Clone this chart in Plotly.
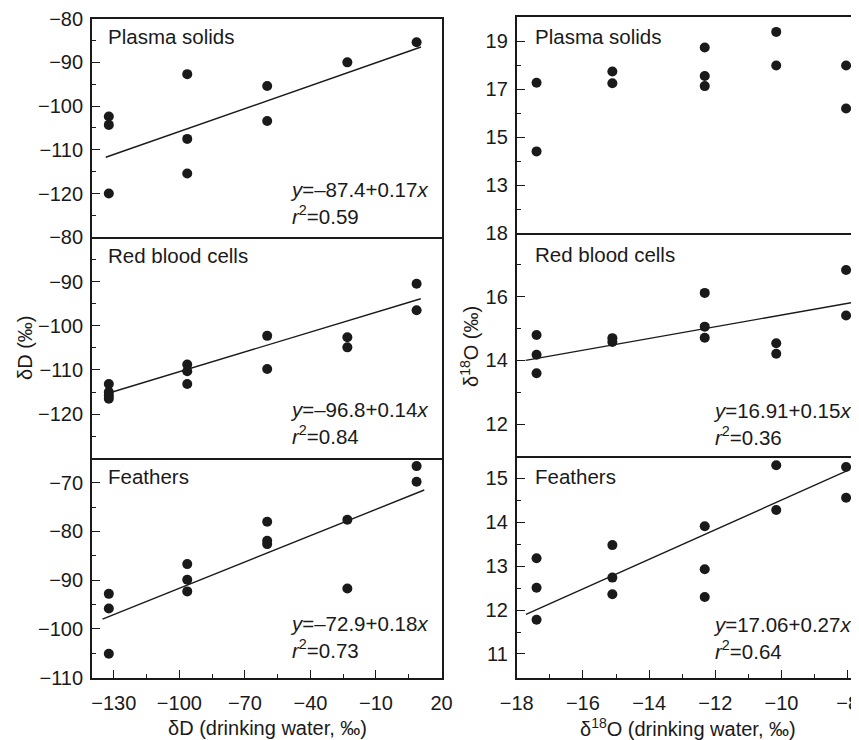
import plotly.graph_objects as go

# ---------------- data ----------------
# delta D panels (left column)
plasma_D_x = [-132.3, -132.3, -132.3, -96.4, -96.4, -96.4, -59.8, -59.8, -23.1, 8.6]
plasma_D_y = [-102.4, -104.3, -120.0, -92.7, -107.5, -115.4, -95.4, -103.4, -90.0, -85.4]

rbc_D_x = [-132.3, -132.3, -132.3, -132.3, -96.4, -96.4, -96.4, -59.8, -59.8, -23.1, -23.1, 8.6, 8.6]
rbc_D_y = [-113.2, -115.0, -115.8, -116.5, -108.8, -110.3, -113.2, -102.3, -109.8, -102.6, -104.9, -90.5, -96.5]

feath_D_x = [-132.3, -132.3, -132.3, -96.4, -96.4, -96.4, -59.8, -59.8, -59.8, -23.1, -23.1, 8.6, 8.6]
feath_D_y = [-92.8, -95.8, -105.1, -86.7, -89.9, -92.3, -78.0, -81.9, -82.6, -77.6, -91.7, -66.6, -69.8]

# delta 18O panels (right column)
plasma_O_x = [-17.4, -17.4, -15.11, -15.11, -12.32, -12.32, -12.32, -10.16, -10.16, -8.05, -8.05]
plasma_O_y = [17.26, 14.40, 17.73, 17.24, 18.73, 17.54, 17.12, 19.38, 17.98, 17.98, 16.19]

rbc_O_x = [-17.4, -17.4, -17.4, -15.11, -15.11, -12.32, -12.32, -12.32, -10.16, -10.16, -8.05, -8.05]
rbc_O_y = [14.80, 14.18, 13.60, 14.70, 14.58, 16.12, 15.06, 14.71, 14.54, 14.21, 16.84, 15.41]

feath_O_x = [-17.4, -17.4, -17.4, -15.11, -15.11, -15.11, -12.32, -12.32, -12.32, -10.16, -10.16, -8.05, -8.05]
feath_O_y = [13.18, 12.51, 11.78, 13.48, 12.74, 12.36, 13.91, 12.93, 12.30, 15.30, 14.28, 15.26, 14.56]

# regression lines (end points as drawn)
fit_plasma_D_x = [-133.7, 10.6]
fit_plasma_D_y = [-111.7, -86.5]
fit_rbc_D_x = [-134.1, 10.5]
fit_rbc_D_y = [-115.5, -93.9]
fit_feath_D_x = [-135.2, 12.1]
fit_feath_D_y = [-98.0, -71.5]
fit_rbc_O_x = [-17.73, -7.75]
fit_rbc_O_y = [14.0, 15.84]
fit_feath_O_x = [-17.72, -8.03]
fit_feath_O_y = [11.90, 15.17]

panel_names = ["Plasma solids", "Red blood cells", "Feathers"]
eq_D = ["<i>y</i>=\u201387.4+0.17<i>x</i><br><i>r</i><sup>2</sup>=0.59",
        "<i>y</i>=\u201396.8+0.14<i>x</i><br><i>r</i><sup>2</sup>=0.84",
        "<i>y</i>=\u201372.9+0.18<i>x</i><br><i>r</i><sup>2</sup>=0.73"]
eq_O = [None,
        "<i>y</i>=16.91+0.15<i>x</i><br><i>r</i><sup>2</sup>=0.36",
        "<i>y</i>=17.06+0.27<i>x</i><br><i>r</i><sup>2</sup>=0.64"]

xticks_D = [-130, -100, -70, -40, -10, 20]
xminor_D = [-115, -85, -55, -25, 5]
xticks_O = [-18, -16, -14, -12, -10, -8]
xminor_O = [-17, -15, -13, -11, -9]

yticks_D = [[-80, -90, -100, -110, -120], [-80, -90, -100, -110, -120], [-70, -80, -90, -100, -110]]
yminor_D = [[-85, -95, -105, -115, -125], [-85, -95, -105, -115, -125], [-75, -85, -95, -105]]
yticks_O = [[19, 17, 15, 13], [18, 16, 14, 12], [15, 14, 13, 12, 11]]
yminor_O = [[18, 16, 14, 12], [17, 15, 13], [14.5, 13.5, 12.5, 11.5]]

# ---------------- layout geometry ----------------
# the page body adds an 8px offset, so the figure is drawn 8px smaller
OFF = 8
W, H = 859 - OFF, 740 - OFF
FONT = "Liberation Sans, Arial, Helvetica, sans-serif"
INK = "#1a1a1a"
FS = 20
FS_LAB = 20.5

def px_x(p):
    return (p - OFF) / W

def px_y(p):
    return 1 - (p - OFF) / H

left_x = [px_x(92), px_x(441.5)]
right_x = [px_x(516.7), 1.0]
left_rows = [(18.6, 237.3), (237.3, 458.3), (458.3, 677.7)]
right_rows = [(17, 233), (233, 456), (456, 677.7)]

yr_D = [[-130, -80], [-130, -80], [-110, -65]]
yr_O = [[11, 20], [11, 18], [10.46, 15.51]]

fig = go.Figure()

series_D = [(plasma_D_x, plasma_D_y, fit_plasma_D_x, fit_plasma_D_y),
            (rbc_D_x, rbc_D_y, fit_rbc_D_x, fit_rbc_D_y),
            (feath_D_x, feath_D_y, fit_feath_D_x, fit_feath_D_y)]
series_O = [(plasma_O_x, plasma_O_y, None, None),
            (rbc_O_x, rbc_O_y, fit_rbc_O_x, fit_rbc_O_y),
            (feath_O_x, feath_O_y, fit_feath_O_x, fit_feath_O_y)]

layout = dict(
    width=W, height=H, margin=dict(l=0, r=0, t=0, b=0, pad=0, autoexpand=False),
    paper_bgcolor="white", plot_bgcolor="white", showlegend=False,
    font=dict(family=FONT, size=FS, color=INK),
)

annotations = []

def add_panel(idx, xs, ys, fx, fy, xdom, row, yrange, xrange, yt, ym, xt, xm, bottom, top, mirror_y):
    xa = "x" if idx == 1 else f"x{idx}"
    ya = "y" if idx == 1 else f"y{idx}"
    if fx is not None:
        fig.add_trace(go.Scatter(x=fx, y=fy, mode="lines", xaxis=xa, yaxis=ya,
                                 line=dict(color=INK, width=1.4), hoverinfo="skip"))
    fig.add_trace(go.Scatter(x=xs, y=ys, mode="markers", xaxis=xa, yaxis=ya,
                             marker=dict(color=INK, size=10, line=dict(width=0))))
    ydom = [px_y(row[1]), px_y(row[0])]
    xkey = "xaxis" if idx == 1 else f"xaxis{idx}"
    ykey = "yaxis" if idx == 1 else f"yaxis{idx}"
    layout[xkey] = dict(
        domain=xdom, range=xrange, anchor=ya, showgrid=False, zeroline=False,
        automargin=False, ticklabeloverflow="allow",
        showline=True, linecolor=INK, linewidth=1.8, mirror=top,
        tickmode="array", tickvals=xt if bottom else [],
        ticks="inside" if bottom else "", ticklen=8, tickwidth=1.3, tickcolor=INK,
        showticklabels=bottom, ticklabelstandoff=6,
        ticktext=[str(v).replace("-", "\u2212") for v in xt] if bottom else [],
        tickfont=dict(family=FONT, size=FS, color=INK),
        minor=dict(tickvals=xm if bottom else [], ticks="inside" if bottom else "",
                   ticklen=4, tickwidth=1.2, tickcolor=INK),
    )
    layout[ykey] = dict(
        domain=ydom, range=yrange, anchor=xa, showgrid=False, zeroline=False,
        automargin=False, ticklabeloverflow="allow",
        showline=True, linecolor=INK, linewidth=1.8, mirror=mirror_y,
        tickmode="array", tickvals=yt, ticktext=[str(v).replace("-", "\u2212") for v in yt],
        ticks="inside", ticklen=8, tickwidth=1.3, tickcolor=INK,
        ticklabelstandoff=3,
        tickfont=dict(family=FONT, size=FS, color=INK),
        minor=dict(tickvals=ym, ticks="inside", ticklen=4, tickwidth=1.2, tickcolor=INK),
    )

for i in range(3):
    xs, ys, fx, fy = series_D[i]
    add_panel(i + 1, xs, ys, fx, fy, left_x, left_rows[i], yr_D[i], [-140, 20],
              yticks_D[i], yminor_D[i], xticks_D, xminor_D, i == 2, i == 0, True)
    xs, ys, fx, fy = series_O[i]
    add_panel(i + 4, xs, ys, fx, fy, right_x, right_rows[i], yr_O[i], [-18, -7.66],
              yticks_O[i], yminor_O[i], xticks_O, xminor_O, i == 2, i == 0, False)

# panel names
label_y_left = [36, 255, 476.7]
label_y_right = [36, 254.3, 476.7]
for i in range(3):
    annotations.append(dict(text=panel_names[i], x=px_x(106), y=px_y(label_y_left[i]),
                            xref="paper", yref="paper", xanchor="left", yanchor="middle",
                            showarrow=False, font=dict(family=FONT, size=FS_LAB, color=INK)))
    annotations.append(dict(text=panel_names[i], x=px_x(533), y=px_y(label_y_right[i]),
                            xref="paper", yref="paper", xanchor="left", yanchor="middle",
                            showarrow=False, font=dict(family=FONT, size=FS_LAB, color=INK)))

# equations
eq_y_left = [202.5, 423, 637]
eq_y_right = [None, 423.7, 638.3]
for i in range(3):
    annotations.append(dict(text=eq_D[i], x=px_x(288), y=px_y(eq_y_left[i]),
                            xref="paper", yref="paper", xanchor="left", yanchor="middle",
                            align="left", showarrow=False,
                            font=dict(family=FONT, size=FS_LAB, color=INK)))
    if eq_O[i] is not None:
        annotations.append(dict(text=eq_O[i], x=px_x(711), y=px_y(eq_y_right[i]),
                                xref="paper", yref="paper", xanchor="left", yanchor="middle",
                                align="left", showarrow=False,
                                font=dict(family=FONT, size=FS_LAB, color=INK)))

# axis titles
annotations.append(dict(text="\u03b4D (\u2030)", x=px_x(25), y=px_y(348), xref="paper", yref="paper",
                        textangle=-90, showarrow=False, xanchor="center", yanchor="middle",
                        font=dict(family=FONT, size=FS, color=INK)))
annotations.append(dict(text="\u03b4<sup>18</sup>O (\u2030)", x=px_x(469), y=px_y(347), xref="paper", yref="paper",
                        textangle=-90, showarrow=False, xanchor="center", yanchor="middle",
                        font=dict(family=FONT, size=FS, color=INK)))
annotations.append(dict(text="\u03b4D (drinking water, \u2030)", x=px_x(267), y=px_y(728), xref="paper", yref="paper",
                        showarrow=False, xanchor="center", yanchor="middle",
                        font=dict(family=FONT, size=FS, color=INK)))
annotations.append(dict(text="\u03b4<sup>18</sup>O (drinking water, \u2030)", x=px_x(688), y=px_y(727), xref="paper", yref="paper",
                        showarrow=False, xanchor="center", yanchor="middle",
                        font=dict(family=FONT, size=FS, color=INK)))

layout["annotations"] = annotations
fig.update_layout(**layout)
fig.write_html("out.html")
